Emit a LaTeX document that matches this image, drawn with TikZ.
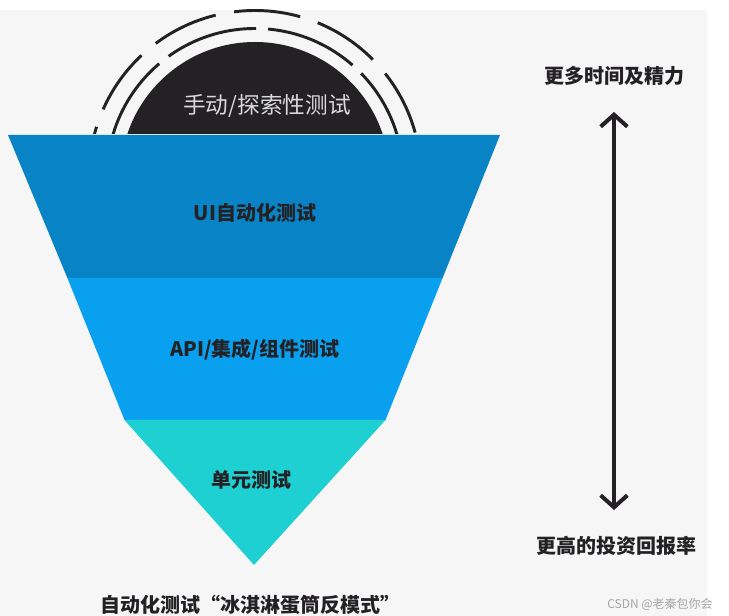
\documentclass[tikz,border=0pt]{standalone}
\usepackage{fontspec}
\setmainfont{Noto Sans CJK SC}
\usetikzlibrary{arrows.meta}
\definecolor{bandA}{RGB}{8,132,198}
\definecolor{bandB}{RGB}{10,160,240}
\definecolor{bandC}{RGB}{30,208,210}
\definecolor{bgGray}{RGB}{246,246,246}
\definecolor{capDark}{RGB}{35,33,36}
\tikzset{
  lbl/.style={font=\bfseries\fontsize{15}{17}\selectfont, inner sep=0.75pt, text=capDark},
  ring/.style={line width=2.2pt, color=capDark}
}
\begin{document}
\begin{tikzpicture}[x=0.75pt,y=0.75pt,yscale=-1,xscale=1]
\useasboundingbox (0,0) rectangle (729,616);
\fill[white] (0,0) rectangle (729,616);
\fill[bgGray] (0,10) rectangle (707,616);

% dark cap and broken rings
\begin{scope}
\clip (0,0) rectangle (729,134);
\fill[capDark] (255,176.5) circle (134.5);
\draw[ring, dash pattern=on 70pt off 9pt, dash phase=20pt] (255,176.5) circle (148);
\draw[ring, dash pattern=on 50pt off 14pt, dash phase=5pt] (255,176.5) circle (166);
\end{scope}
\node[font=\fontsize{17}{19}\selectfont, inner sep=0.75pt, text=white!85!black] (manual) at (267,106) {手动/探索性测试};

% inverted triangle bands
\fill[bandA] (8,135) -- (500,135) -- (442.6,278) -- (67.4,278) -- cycle;
\fill[bandB] (67.4,278) -- (442.6,278) -- (385.5,420) -- (124.5,420) -- cycle;
\fill[bandC] (124.5,420) -- (385.5,420) -- (254,565) -- cycle;
\node[lbl] (ui) at (255,213) {UI自动化测试};
\node[lbl] (api) at (255,350) {API/集成/组件测试};
\node[lbl] (unit) at (251,480) {单元测试};

% right side
\node[lbl] (moretime) at (614,76) {更多时间及精力};
\node[lbl] (roi) at (616,546) {更高的投资回报率};
\coordinate (arrTop) at (614,112);
\coordinate (arrBot) at (614,510);
\draw[line width=3pt, color=capDark, {Straight Barb[length=9pt,width=20pt]}-{Straight Barb[length=9pt,width=20pt]}]
  (arrTop) -- (arrBot);

\node[lbl] (title) at (250,605) {自动化测试“冰淇淋蛋筒反模式”};
\node[font=\fontsize{9}{10}\selectfont, text=gray!70] (mark) at (660,604) {CSDN @老秦包你会};
\end{tikzpicture}
\end{document}
